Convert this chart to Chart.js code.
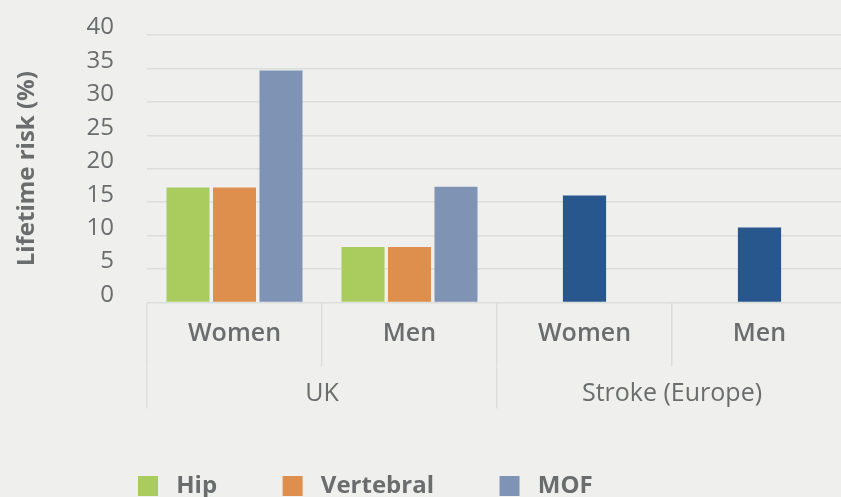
<!DOCTYPE html>
<html><head><meta charset="utf-8">
<style>
html,body{margin:0;padding:0;background:#eff0ed;overflow:hidden;}
#wrap{width:847px;height:508px;position:relative;}
</style>
<script src="https://cdn.jsdelivr.net/npm/chart.js@4/dist/chart.umd.min.js"></script>
</head><body><div id="wrap"><canvas id="c"></canvas></div>
<script>
const categories = ['Women', 'Men', 'Women', 'Men'];
const groups = ['UK', 'Stroke (Europe)'];
const yTickValues = [0, 5, 10, 15, 20, 25, 30, 35, 40];
const seriesNames = ['Hip', 'Vertebral', 'MOF', 'Stroke'];
const hip = [17.2, 8.3, null, null];
const vertebral = [17.2, 8.3, null, null];
const mof = [34.7, 17.3, null, null];
const stroke = [null, null, 16.0, 11.2];
const legendNames = ['Hip', 'Vertebral', 'MOF'];

const FONT = "'Open Sans', 'Noto Sans', sans-serif";
const TXT = '#6a6c6e';
const GRID = '#dcdedb';

const colors = ['#aacb5e', '#de8f4d', '#7f93b4', '#27578d'];
const seriesValues = [hip, vertebral, mof, stroke];

new Chart(document.getElementById('c'), {
  type: 'bar',
  data: {
    labels: categories,
    datasets: seriesNames.map((n, i) => ({
      label: n,
      data: seriesValues[i],
      backgroundColor: colors[i],
      borderWidth: 0,
      skipNull: true,
      categoryPercentage: 0.797,
      barPercentage: 0.925,
      maxBarThickness: 43.2
    }))
  },
  options: {
    responsive: true,
    maintainAspectRatio: false,
    animation: false,
    devicePixelRatio: 1,
    layout: { padding: { left: 72.5, top: 35, right: 0, bottom: 0 } },
    plugins: {
      tooltip: { enabled: false },
      legend: {
        position: 'bottom',
        align: 'start',
        labels: {
          boxWidth: 20,
          boxHeight: 20,
          padding: 65.5,
          color: TXT,
          font: { family: FONT, size: 24, weight: 'bold' },
          generateLabels(chart) {
            return Chart.defaults.plugins.legend.labels.generateLabels(chart)
              .filter(l => legendNames.includes(l.text))
              .map(l => Object.assign({}, l, { text: ' ' + l.text, fontColor: TXT }));
          }
        }
      }
    },
    scales: {
      x: {
        type: 'category',
        position: 'bottom',
        weight: 0,
        offset: true,
        grid: { offset: true, drawOnChartArea: false, tickLength: 64, color: GRID, lineWidth: 1.5 },
        border: { display: false },
        ticks: { padding: -48, color: TXT, maxRotation: 0, autoSkip: false,
                 font: { family: FONT, size: 25, weight: '600' } },
        afterFit(s) { s.height = 64; s.paddingLeft = 0; s.paddingRight = 0; }
      },
      x2: {
        type: 'category',
        position: 'bottom',
        weight: 1,
        labels: groups,
        offset: true,
        grid: { offset: true, drawOnChartArea: false, tickLength: 42, color: GRID, lineWidth: 1.5 },
        border: { display: false },
        ticks: { padding: -30, color: TXT, maxRotation: 0, autoSkip: false,
                 font: { family: FONT, size: 25 } },
        afterFit(s) { s.height = 42; s.paddingLeft = 0; s.paddingRight = 0; }
      },
      y: {
        min: 0,
        max: 40,
        afterBuildTicks(s) { s.ticks = yTickValues.map(v => ({ value: v })); },
        grid: { color: GRID, lineWidth: 1.5, drawTicks: false },
        border: { display: false },
        ticks: {
          padding: 33,
          autoSkip: false,
          color: TXT,
          font: { family: FONT, size: 24, lineHeight: 0.62 },
          callback: v => [String(v), '']
        },
        title: {
          display: true,
          text: 'Lifetime risk (%)',
          color: TXT,
          font: { family: FONT, size: 24, weight: 'bold' },
          padding: { top: -59.5, bottom: 0 }
        },
        afterFit(s) { s.width = 74.5; s.paddingTop = 0; s.paddingBottom = 0; }
      }
    }
  }
});
</script>
</body></html>
